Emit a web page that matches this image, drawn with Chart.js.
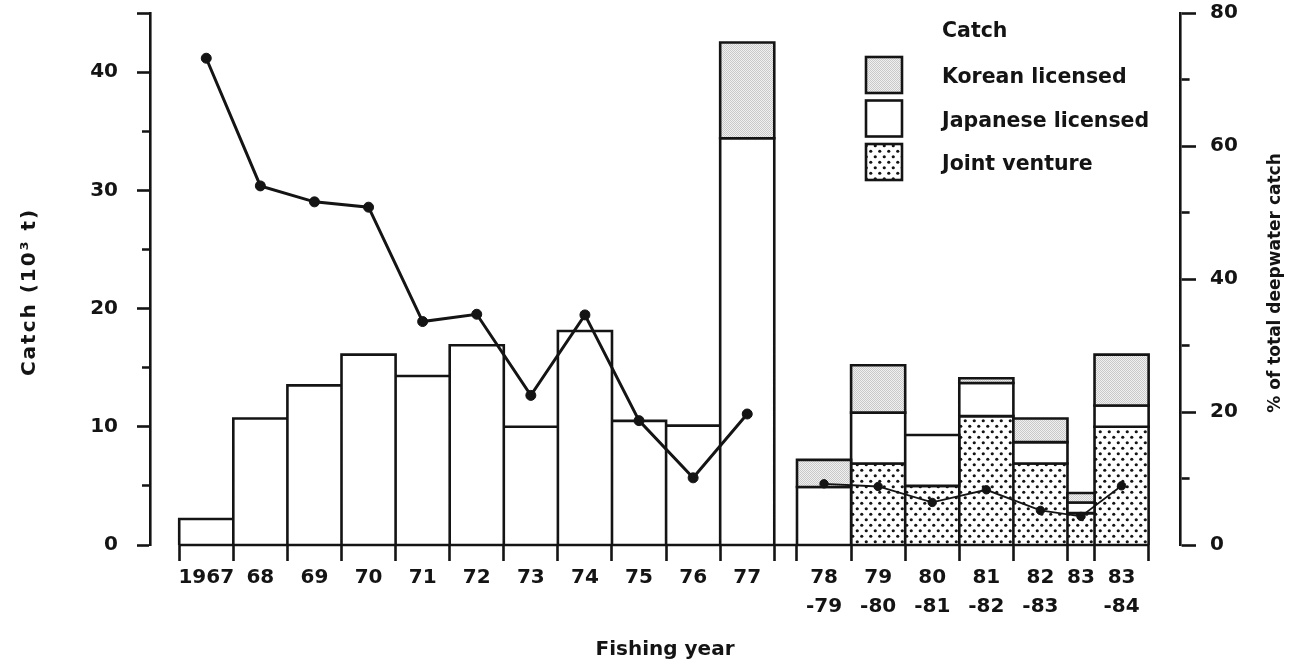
<!DOCTYPE html>
<html>
<head>
<meta charset="utf-8">
<title>Deepwater catch by foreign licensed and joint venture vessels</title>
<script src="https://cdn.jsdelivr.net/npm/chart.js@4.4.1/dist/chart.umd.min.js"></script>
<style>
  html, body { margin: 0; padding: 0; background: #fff; }
  #wrap { position: relative; width: 1298px; height: 663px; }
</style>
</head>
<body>
<div id="wrap"><canvas id="chart"></canvas></div>
<script>
// Fishing years; split years carry a two-line label
const periods = ['1967', '68', '69', '70', '71', '72', '73', '74', '75', '76', '77',
  ['78', '-79'], ['79', '-80'], ['80', '-81'], ['81', '-82'], ['82', '-83'], '83', ['83', '-84']];
// Length of each fishing period in years (1983 was a half-year changeover)
const periodLength = [1, 1, 1, 1, 1, 1, 1, 1, 1, 1, 1, 1, 1, 1, 1, 1, 0.5, 1];
// Catch, thousand tonnes
const jointVenture     = [0, 0, 0, 0, 0, 0, 0, 0, 0, 0, 0, 0, 6.9, 5.0, 10.9, 6.9, 2.7, 10.0];
const japaneseLicensed = [2.2, 10.7, 13.5, 16.1, 14.3, 16.9, 10.0, 18.1, 10.5, 10.1, 34.4, 4.9, 4.3, 4.3, 2.8, 1.8, 0.9, 1.8];
const koreanLicensed   = [0, 0, 0, 0, 0, 0, 0, 0, 0, 0, 8.1, 2.3, 4.0, 0, 0.4, 2.0, 0.8, 4.3];
// Share of the total deepwater catch, %
const shareOfDeepwater = [73.2, 54.0, 51.6, 50.8, 33.6, 34.7, 22.5, 34.6, 18.7, 10.1, 19.7, 9.2, 8.8, 6.4, 8.3, 5.2, 4.3, 8.9];
// Labelled ticks on the two value axes
const catchTicks = [0, 10, 20, 30, 40];
const shareTicks = [0, 20, 40, 60, 80];

const FIRST_SPLIT_YEAR = 11;   // series switches from calendar to split fishing years
const BREAK_GAP = 0.42;        // blank space between the two runs of years
const INK = '#141414';

// Period edges and mid-points along the x axis (units of years)
const starts = [], ends = [];
let cursor = 0;
periods.forEach((p, i) => {
  if (i === FIRST_SPLIT_YEAR) cursor += BREAK_GAP;
  starts.push(cursor);
  cursor += periodLength[i];
  ends.push(cursor);
});
const centers = starts.map((s, i) => (s + ends[i]) / 2);
const xEnd = ends[ends.length - 1];

// One closed rectangle per period, stacked on top of the series below it
function stackPolygons(series, below) {
  const pts = [];
  series.forEach((v, i) => {
    if (!v) return;
    const lo = below.reduce((a, s) => a + s[i], 0);
    const hi = lo + v;
    const x0 = starts[i], x1 = ends[i];
    pts.push({x: x0, y: lo}, {x: x0, y: hi}, {x: x1, y: hi}, {x: x1, y: lo},
             {x: x0, y: lo}, {x: x0, y: hi}, {x: x0, y: null});
  });
  return pts;
}

// Fill textures
function tile(w, h, paint) {
  const c = document.createElement('canvas');
  c.width = w; c.height = h;
  const g = c.getContext('2d');
  paint(g, w, h);
  return g.createPattern(c, 'repeat');
}
const stipple = tile(2, 2, (g) => {
  g.fillStyle = '#f0f0f0'; g.fillRect(0, 0, 2, 2);
  g.fillStyle = '#c9c9c9'; g.fillRect(0, 0, 1, 1); g.fillRect(1, 1, 1, 1);
});
const dotted = tile(9, 11, (g, w, h) => {
  g.fillStyle = '#ffffff'; g.fillRect(0, 0, w, h);
  g.fillStyle = INK;
  [[2.25, 2.75], [6.75, 8.25]].forEach(([x, y]) => { g.beginPath(); g.arc(x, y, 1.6, 0, Math.PI * 2); g.fill(); });
});

const barSet = (label, fill, data) => ({
  label, data, yAxisID: 'y', order: 2,
  backgroundColor: fill, borderColor: INK, borderWidth: 2.6,
  borderJoinStyle: 'miter', fill: 'shape', spanGaps: false, tension: 0,
  pointRadius: 0, pointHoverRadius: 0, isCatch: true
});

const shareSet = (from, to, width, radius) => ({
  label: '% of total deepwater catch',
  data: centers.slice(from, to).map((x, k) => ({x, y: shareOfDeepwater[from + k]})),
  yAxisID: 'y2', order: 0, fill: false, tension: 0,
  borderColor: INK, borderWidth: width, backgroundColor: INK,
  pointRadius: radius, pointBackgroundColor: INK, pointBorderColor: INK, pointBorderWidth: 1
});

Chart.defaults.font.family = "'DejaVu Sans', sans-serif";
Chart.defaults.font.size = 20;
Chart.defaults.font.weight = 'bold';
Chart.defaults.color = INK;

// Value axes span the whole plot height; no extra room for end labels
function fitVertical(width) {
  return (scale) => {
    scale.width = width;
    scale.paddingTop = 0;
    scale.paddingBottom = 0;
  };
}

// x baseline under the bars (it runs through the gap between the two runs)
const baseline = {
  id: 'baseline',
  beforeDatasetsDraw(chart) {
    const {ctx, scales: {x, y}} = chart;
    ctx.save();
    ctx.strokeStyle = INK;
    ctx.lineWidth = 2.6;
    ctx.beginPath();
    ctx.moveTo(x.getPixelForValue(0), y.getPixelForValue(0));
    ctx.lineTo(x.getPixelForValue(xEnd), y.getPixelForValue(0));
    ctx.stroke();
    ctx.restore();
  }
};

// Vertical text, reading upwards
function upwardText(ctx, text, x, y, font, spacing) {
  ctx.save();
  ctx.font = font;
  if ('letterSpacing' in ctx) ctx.letterSpacing = spacing;
  ctx.fillStyle = INK;
  ctx.textAlign = 'center';
  ctx.textBaseline = 'middle';
  ctx.translate(x, y);
  ctx.rotate(-Math.PI / 2);
  ctx.fillText(text, 0, 0);
  ctx.restore();
}

// Key for the catch series and the two value-axis titles
const catchKey = {
  id: 'catchKey',
  afterDraw(chart) {
    const {ctx, chartArea} = chart;
    const boxX = chartArea.right - 314, textX = chartArea.right - 238;
    ctx.save();
    ctx.font = "bold 20.5px 'DejaVu Sans'";
    ctx.fillStyle = INK;
    ctx.textAlign = 'left';
    ctx.textBaseline = 'middle';
    ctx.fillText('Catch', textX, chartArea.top + 19);
    const sets = chart.data.datasets.filter(d => d.isCatch);
    sets.forEach((d, k) => {
      const top = chartArea.top + 44 + k * 43.5;
      ctx.fillStyle = d.backgroundColor;
      ctx.fillRect(boxX, top, 36, 36);
      ctx.strokeStyle = INK;
      ctx.lineWidth = 2.6;
      ctx.strokeRect(boxX, top, 36, 36);
      ctx.fillStyle = INK;
      ctx.fillText(d.label, textX, top + 21);
    });
    ctx.restore();
    const midY = (chartArea.top + chartArea.bottom) / 2;
    upwardText(ctx, 'Catch (10³ t)', 30, midY + 13, "bold 20px 'DejaVu Sans'", '2px');
    upwardText(ctx, '% of total deepwater catch', chartArea.right + 96, midY + 4, "bold 17px 'DejaVu Sans'", '0px');
  }
};

new Chart(document.getElementById('chart'), {
  type: 'line',
  data: {
    datasets: [
      barSet('Korean licensed', stipple, stackPolygons(koreanLicensed, [jointVenture, japaneseLicensed])),
      barSet('Japanese licensed', '#ffffff', stackPolygons(japaneseLicensed, [jointVenture])),
      barSet('Joint venture', dotted, stackPolygons(jointVenture, [])),
      shareSet(0, FIRST_SPLIT_YEAR, 3, 5),
      shareSet(FIRST_SPLIT_YEAR, periods.length, 1.8, 4.2)
    ]
  },
  options: {
    responsive: true,
    maintainAspectRatio: false,
    animation: false,
    events: [],
    layout: { padding: { top: 13, left: 0, right: 0, bottom: 0 } },
    plugins: { legend: { display: false }, tooltip: { enabled: false } },
    scales: {
      x: {
        type: 'linear',
        position: 'bottom',
        min: -0.54,
        max: 18.5,
        border: { display: false },
        grid: {
          drawOnChartArea: false,
          drawTicks: true,
          tickLength: 16,
          tickWidth: 2.6,
          tickColor: (c) => (c.tick && c.tick.edge ? INK : 'rgba(0,0,0,0)')
        },
        ticks: {
          autoSkip: false,
          maxRotation: 0,
          padding: 2.5,
          font: { size: 20, lineHeight: 1.45 },
          callback(value, index, ticks) {
            const t = ticks[index];
            return t && t.period !== undefined ? periods[t.period] : '';
          }
        },
        afterBuildTicks(scale) {
          const list = [];
          const edgeSet = new Set();
          starts.concat(ends).forEach(v => edgeSet.add(Math.round(v * 1000) / 1000));
          [...edgeSet].forEach(v => list.push({value: v, edge: true}));
          centers.forEach((v, i) => list.push({value: v, period: i}));
          list.sort((a, b) => a.value - b.value);
          scale.ticks = list;
        },
        afterFit(scale) {
          scale.height = 118;
          scale.paddingLeft = 0;
          scale.paddingRight = 0;
        },
        title: { display: true, text: 'Fishing year', padding: { top: 0, bottom: 1 } }
      },
      y: {
        type: 'linear',
        position: 'left',
        min: 0,
        max: 45,
        border: { display: true, color: INK, width: 2.6 },
        grid: {
          drawOnChartArea: false,
          tickLength: 13,
          tickWidth: 2.6,
          tickColor: INK,
          tickBorderDash: (c) => (c.tick && c.tick.value % 10 !== 0 && c.tick.value !== 45 ? [0, 5, 9, 100] : [])
        },
        ticks: {
          stepSize: 5,
          padding: 19,
          callback: (v) => (catchTicks.includes(v) ? String(v) : '')
        },
        afterFit: fitVertical(150)
      },
      y2: {
        type: 'linear',
        position: 'right',
        min: 0,
        max: 80,
        border: { display: true, color: INK, width: 2.6 },
        grid: {
          drawOnChartArea: false,
          tickLength: 16,
          tickWidth: 2.6,
          tickColor: INK,
          tickBorderDash: (c) => (c.tick && c.tick.value % 20 !== 0 ? [8, 100] : [])
        },
        ticks: {
          stepSize: 10,
          padding: 14,
          callback: (v) => (shareTicks.includes(v) ? String(v) : '')
        },
        afterFit: fitVertical(118)
      }
    }
  },
  plugins: [baseline, catchKey]
});
</script>
</body>
</html>
